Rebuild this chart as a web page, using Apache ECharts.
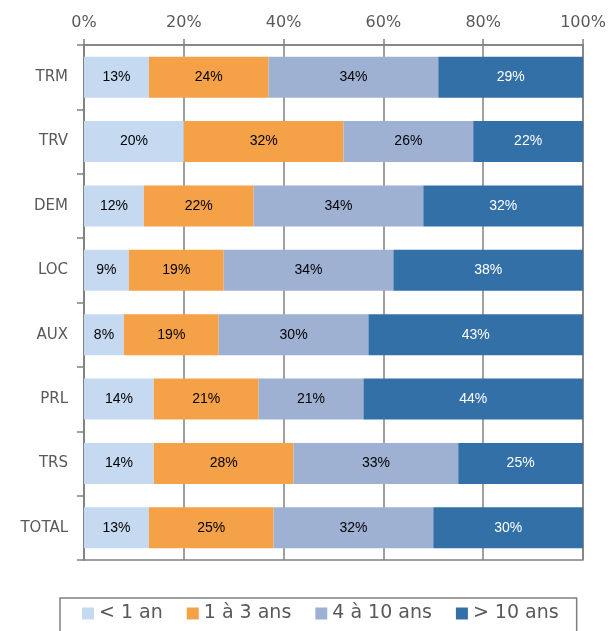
<!DOCTYPE html>
<html>
<head>
<meta charset="utf-8">
<style>
  html, body { margin: 0; padding: 0; background: #fff; }
  #chart { width: 609px; height: 631px; }
</style>
<script src="https://cdn.jsdelivr.net/npm/echarts@6/dist/echarts.min.js"></script>
</head>
<body>
<div id="chart"></div>
<script>
// catégories (de haut en bas)
const categories = ['TRM', 'TRV', 'DEM', 'LOC', 'AUX', 'PRL', 'TRS', 'TOTAL'];
const seriesNames = ['< 1 an', '1 à 3 ans', '4 à 10 ans', '> 10 ans'];
const lessThan1 = [13, 20, 12, 9, 8, 14, 14, 13];
const from1to3 = [24, 32, 22, 19, 19, 21, 28, 25];
const from4to10 = [34, 26, 34, 34, 30, 21, 33, 32];
const moreThan10 = [29, 22, 32, 38, 43, 44, 25, 30];
const xTicks = [0, 20, 40, 60, 80, 100];

const colors = ['#c5d9f1', '#f5a147', '#9fb1d3', '#3370a8'];
const labelColors = ['#000', '#000', '#000', '#fff'];
const values = [lessThan1, from1to3, from4to10, moreThan10];
const axisGray = '#808080';
const textGray = '#595959';

const chart = echarts.init(document.getElementById('chart'), null, { renderer: 'canvas' });

chart.setOption({
  animation: false,
  backgroundColor: '#fff',
  grid: { left: 84, right: 26, top: 45, bottom: 71, show: true, borderColor: axisGray, borderWidth: 1.5, backgroundColor: 'transparent' },
  legend: {
    data: seriesNames,
    top: 598, left: 60,
    width: 515,
    itemWidth: 12, itemHeight: 12, itemGap: 24,
    icon: 'rect',
    borderColor: axisGray, borderWidth: 1.5,
    padding: [6, 18, 20, 22],
    textStyle: { color: textGray, fontSize: 19, fontFamily: 'DejaVu Sans' }
  },
  xAxis: {
    type: 'value', position: 'top', min: xTicks[0], max: xTicks[xTicks.length - 1], interval: 20,
    axisLine: { show: true, lineStyle: { color: axisGray, width: 1.5 } },
    axisTick: { show: true, length: 6, lineStyle: { color: axisGray, width: 1.5 } },
    splitLine: { show: true, lineStyle: { color: axisGray, width: 1.5 } },
    axisLabel: { formatter: '{value}%', color: textGray, fontSize: 16, fontFamily: 'DejaVu Sans', margin: 14 }
  },
  yAxis: {
    type: 'category', data: categories, inverse: true,
    axisLine: { show: true, lineStyle: { color: axisGray, width: 1.5 } },
    axisTick: { show: true, length: 7, lineStyle: { color: axisGray, width: 1.5 } },
    axisLabel: { color: textGray, fontSize: 15, fontFamily: 'DejaVu Sans', margin: 16 }
  },
  series: seriesNames.map((name, i) => ({
    name, type: 'bar', stack: 'total', data: values[i], barWidth: 41,
    itemStyle: { color: colors[i] },
    label: { show: true, position: 'inside', formatter: '{c}%', color: labelColors[i], fontSize: 14, fontFamily: 'Liberation Sans' }
  }))
});
</script>
</body>
</html>
